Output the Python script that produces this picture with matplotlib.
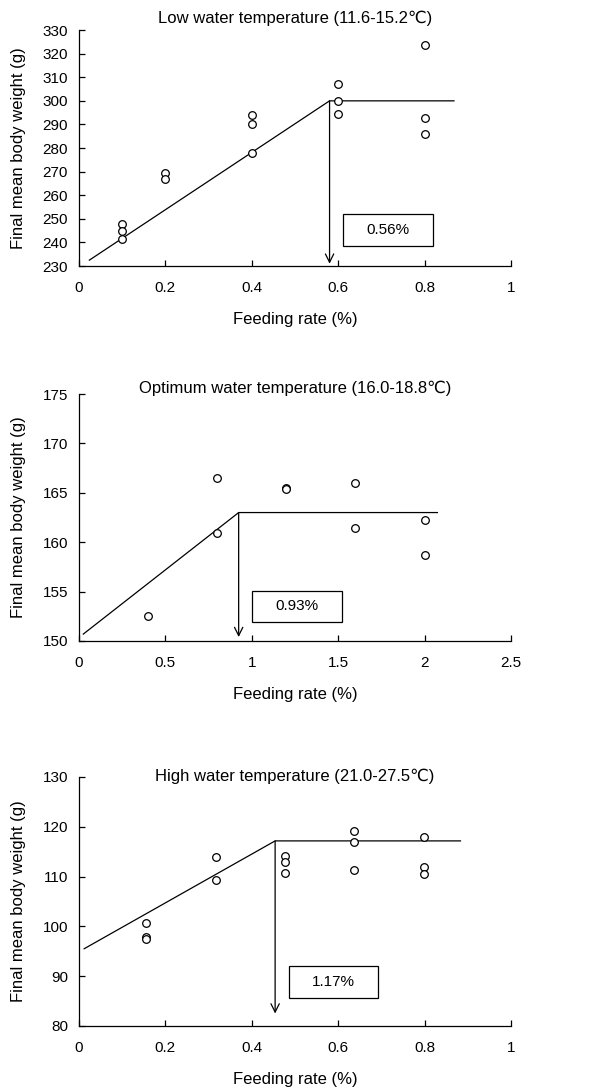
import matplotlib
matplotlib.use('Agg')
import matplotlib.pyplot as plt
from matplotlib.patches import Rectangle

plt.rcParams['font.family'] = ['Liberation Sans', 'DejaVu Sans']

# low water temperature
low_x = [0.1, 0.1, 0.1, 0.2, 0.2, 0.4, 0.4, 0.4, 0.6, 0.6, 0.6, 0.8, 0.8, 0.8]
low_y = [247.7, 244.7, 241.5, 269.5, 266.8, 293.9, 290.3, 277.9,
         307.2, 300.0, 294.4, 323.6, 292.9, 285.9]
low_line_x = [0.024, 0.58, 0.868]
low_line_y = [232.5, 300.0, 300.0]

# optimum water temperature
opt_x = [0.4, 0.8, 0.8, 1.2, 1.2, 1.6, 1.6, 2.0, 2.0]
opt_y = [152.5, 166.45, 160.9, 165.5, 165.35, 166.0, 161.4, 162.2, 158.7]
opt_line_x = [0.025, 0.924, 2.074]
opt_line_y = [150.7, 163.0, 163.0]

# high water temperature
high_x = [0.155, 0.155, 0.155, 0.316, 0.316, 0.477, 0.477, 0.477,
          0.637, 0.637, 0.637, 0.799, 0.799, 0.799]
high_y = [100.75, 97.8, 97.4, 114.0, 109.25, 114.2, 112.9, 110.7,
          119.2, 116.9, 111.3, 118.0, 111.9, 110.6]
high_line_x = [0.012, 0.454, 0.883]
high_line_y = [95.5, 117.15, 117.15]

titles = ['Low water temperature (11.6-15.2\u2103)',
          'Optimum water temperature (16.0-18.8\u2103)',
          'High water temperature (21.0-27.5\u2103)']
labels = ['0.56%', '0.93%', '1.17%']
xlims = [(0, 1), (0, 2.5), (0, 1)]
xticks = [[0, 0.2, 0.4, 0.6, 0.8, 1], [0, 0.5, 1, 1.5, 2, 2.5], [0, 0.2, 0.4, 0.6, 0.8, 1]]
xticklabels = [['0', '0.2', '0.4', '0.6', '0.8', '1'],
               ['0', '0.5', '1', '1.5', '2', '2.5'],
               ['0', '0.2', '0.4', '0.6', '0.8', '1']]
ylims = [(230, 330), (150, 175), (80, 130)]
yticks = [list(range(230, 331, 10)), list(range(150, 176, 5)), list(range(80, 131, 10))]
arrow_bottom = [231, 150.4, 82.5]
# label boxes: x0, x1, y0, y1
boxes = [(0.612, 0.82, 238.3, 252.0),
         (0.999, 1.52, 151.9, 155.1),
         (0.485, 0.693, 85.6, 92.05)]

xs = [low_x, opt_x, high_x]
ys = [low_y, opt_y, high_y]
lxs = [low_line_x, opt_line_x, high_line_x]
lys = [low_line_y, opt_line_y, high_line_y]

fig = plt.figure(figsize=(6.09, 10.89), dpi=100)
rects = [[0.1297, 0.7557, 0.7094, 0.2167],
         [0.1297, 0.4114, 0.7094, 0.2268],
         [0.1297, 0.0579, 0.7094, 0.2287]]
title_pad = [5, 1, -3]

for i in range(3):
    ax = fig.add_axes(rects[i])
    ax.plot(lxs[i], lys[i], color='black', lw=0.9)
    ax.plot(xs[i], ys[i], 'o', mfc='white', mec='black', mew=0.9, ms=5.5, ls='none')
    bx = lxs[i][1]
    ax.annotate('', xy=(bx, arrow_bottom[i]), xytext=(bx, lys[i][1]),
                arrowprops=dict(arrowstyle='->,head_length=0.6,head_width=0.3',
                                color='black', lw=0.9, shrinkA=0, shrinkB=0))
    x0, x1, y0, y1 = boxes[i]
    ax.add_patch(Rectangle((x0, y0), x1 - x0, y1 - y0, fill=False,
                           edgecolor='black', lw=0.9))
    ax.text((x0 + x1) / 2, (y0 + y1) / 2, labels[i], ha='center', va='center',
            fontsize=11)
    ax.set_xlim(*xlims[i])
    ax.set_ylim(*ylims[i])
    ax.set_xticks(xticks[i])
    ax.set_xticklabels(xticklabels[i])
    ax.set_yticks(yticks[i])
    ax.spines['top'].set_visible(False)
    ax.spines['right'].set_visible(False)
    ax.spines['left'].set_linewidth(0.9)
    ax.spines['bottom'].set_linewidth(0.9)
    ax.tick_params(direction='in', length=4, width=0.9, labelsize=11)
    ax.tick_params(axis='x', pad=11)
    ax.tick_params(axis='y', pad=8)
    ax.set_title(titles[i], fontsize=12, pad=title_pad[i], y=1.0)
    ax.set_xlabel('Feeding rate (%)', fontsize=12, labelpad=12)
    ax.set_ylabel('Final mean body weight (g)', fontsize=12, labelpad=12)

fig.savefig('out.png', dpi=100)
